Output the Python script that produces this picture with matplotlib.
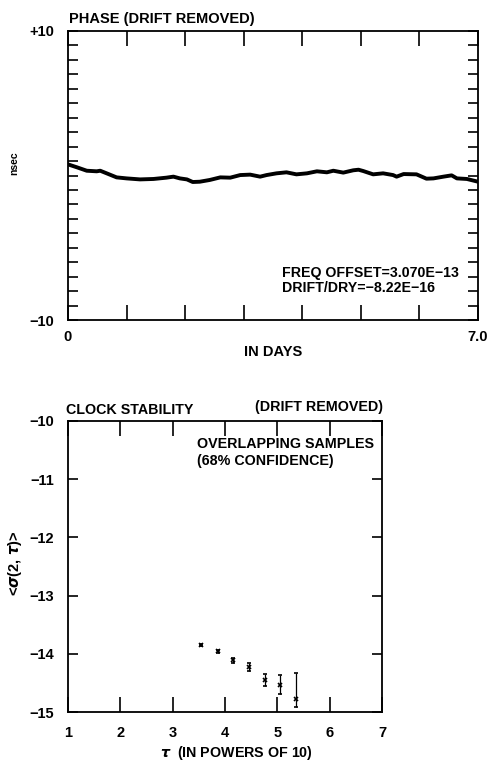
import matplotlib
matplotlib.use("Agg")
import matplotlib.pyplot as plt
import numpy as np

plt.rcParams['font.family'] = ['Liberation Sans', 'DejaVu Sans']
plt.rcParams['font.weight'] = 'bold'

# phase residual (nsec) vs days
days = [0, 0.15, 0.32, 0.49, 0.55, 0.66, 0.83, 1.0, 1.23, 1.46, 1.68, 1.80,
        1.91, 2.03, 2.13, 2.25, 2.42, 2.60, 2.77, 2.94, 3.11, 3.28, 3.39, 3.56,
        3.73, 3.90, 4.08, 4.25, 4.42, 4.53, 4.70, 4.87, 4.96, 5.04, 5.21, 5.38,
        5.55, 5.61, 5.73, 5.95, 6.12, 6.24, 6.41, 6.55, 6.64, 6.81, 7.0]
phase = [0.77, 0.57, 0.33, 0.29, 0.33, 0.15, -0.13, -0.20, -0.27, -0.24, -0.15, -0.08,
         -0.20, -0.27, -0.45, -0.43, -0.31, -0.13, -0.15, 0.03, 0.06, -0.08, 0.03, 0.15,
         0.22, 0.08, 0.15, 0.29, 0.22, 0.33, 0.20, 0.36, 0.40, 0.31, 0.08, 0.15,
         0.03, -0.08, 0.10, 0.08, -0.22, -0.20, -0.08, 0.01, -0.20, -0.24, -0.43]

# clock stability points: log10(tau), log10(sigma), asymmetric 68% bars
tau = [3.55, 3.86, 4.16, 4.46, 4.76, 5.06, 5.35]
sigma = [-13.85, -13.96, -14.11, -14.23, -14.45, -14.54, -14.77]
err_lo = [0.02, 0.03, 0.04, 0.07, 0.11, 0.15, 0.15]
err_hi = [0.02, 0.03, 0.04, 0.07, 0.11, 0.18, 0.44]

W, H = 489, 764
fig = plt.figure(figsize=(W / 100, H / 100), dpi=100)


def box(l, t, r, b):
    return [l / W, 1 - b / H, (r - l) / W, (b - t) / H]


def ftext(x, y, s, **kw):
    fig.text(x / W, 1 - y / H, s, **kw)


# ---- top panel: phase ----
ax1 = fig.add_axes(box(68, 31, 478, 320))
ax1.plot(days, phase, color='black', lw=2.8, solid_capstyle='round')
ax1.set_xlim(0, 7)
ax1.set_ylim(-10, 10)
ax1.set_xticks(range(0, 8))
ax1.set_xticklabels(['0', '', '', '', '', '', '', '7.0'])
ax1.set_yticks(range(-10, 11))
ax1.set_yticklabels(['\u221210'] + [''] * 19 + ['+10'])
ax1.tick_params(axis='x', direction='in', length=11, width=1.2, top=True,
                labelsize=10.5, pad=7)
ax1.tick_params(axis='y', direction='in', length=7, width=1.2, right=True,
                labelsize=10.5, pad=10)
for sp in ax1.spines.values():
    sp.set_linewidth(1.3)

ftext(69, 23, 'PHASE (DRIFT REMOVED)', fontsize=10.5)
ftext(14, 163, 'nsec', fontsize=7.5, rotation=90, ha='center', va='center')
ftext(273, 352, 'IN DAYS', fontsize=10.5, ha='center', va='center')
ftext(282, 273, 'FREQ OFFSET=3.070E\u221213', fontsize=10.2, va='center')
ftext(282, 288, 'DRIFT/DRY=\u22128.22E\u221216', fontsize=10.2, va='center')

# ---- bottom panel: stability ----
ax2 = fig.add_axes(box(68, 421, 382, 712))
ax2.errorbar(tau, sigma, yerr=[err_lo, err_hi], fmt='x', color='black',
             ms=3, mew=1.2, elinewidth=0.9, capsize=1.5, capthick=0.9)
ax2.set_xlim(1, 7)
ax2.set_ylim(-15, -10)
ax2.set_xticks(range(1, 8))
ax2.set_yticks(range(-15, -9))
ax2.set_yticklabels(['\u2212%d' % v for v in range(15, 9, -1)])
ax2.tick_params(axis='x', direction='in', length=11, width=1.2, top=True,
                labelsize=10.5, pad=10)
ax2.tick_params(axis='y', direction='in', length=7, width=1.2, right=True,
                labelsize=10.5, pad=10)
for sp in ax2.spines.values():
    sp.set_linewidth(1.3)

ftext(66, 414, 'CLOCK STABILITY', fontsize=10.3)
ftext(383, 411, '(DRIFT REMOVED)', fontsize=10.3, ha='right')
ftext(197, 444, 'OVERLAPPING SAMPLES', fontsize=10.3, va='center')
ftext(197, 461, '(68% CONFIDENCE)', fontsize=10.3, va='center')
ftext(15, 563, r'<$\sigma$(2, $\tau$)>', fontsize=10.5, rotation=90,
      ha='center', va='center')
ftext(236, 753, r'$\tau$  (IN POWERS OF 10)', fontsize=10.3, ha='center',
      va='center')

fig.savefig('out.png', dpi=100, facecolor='white')
